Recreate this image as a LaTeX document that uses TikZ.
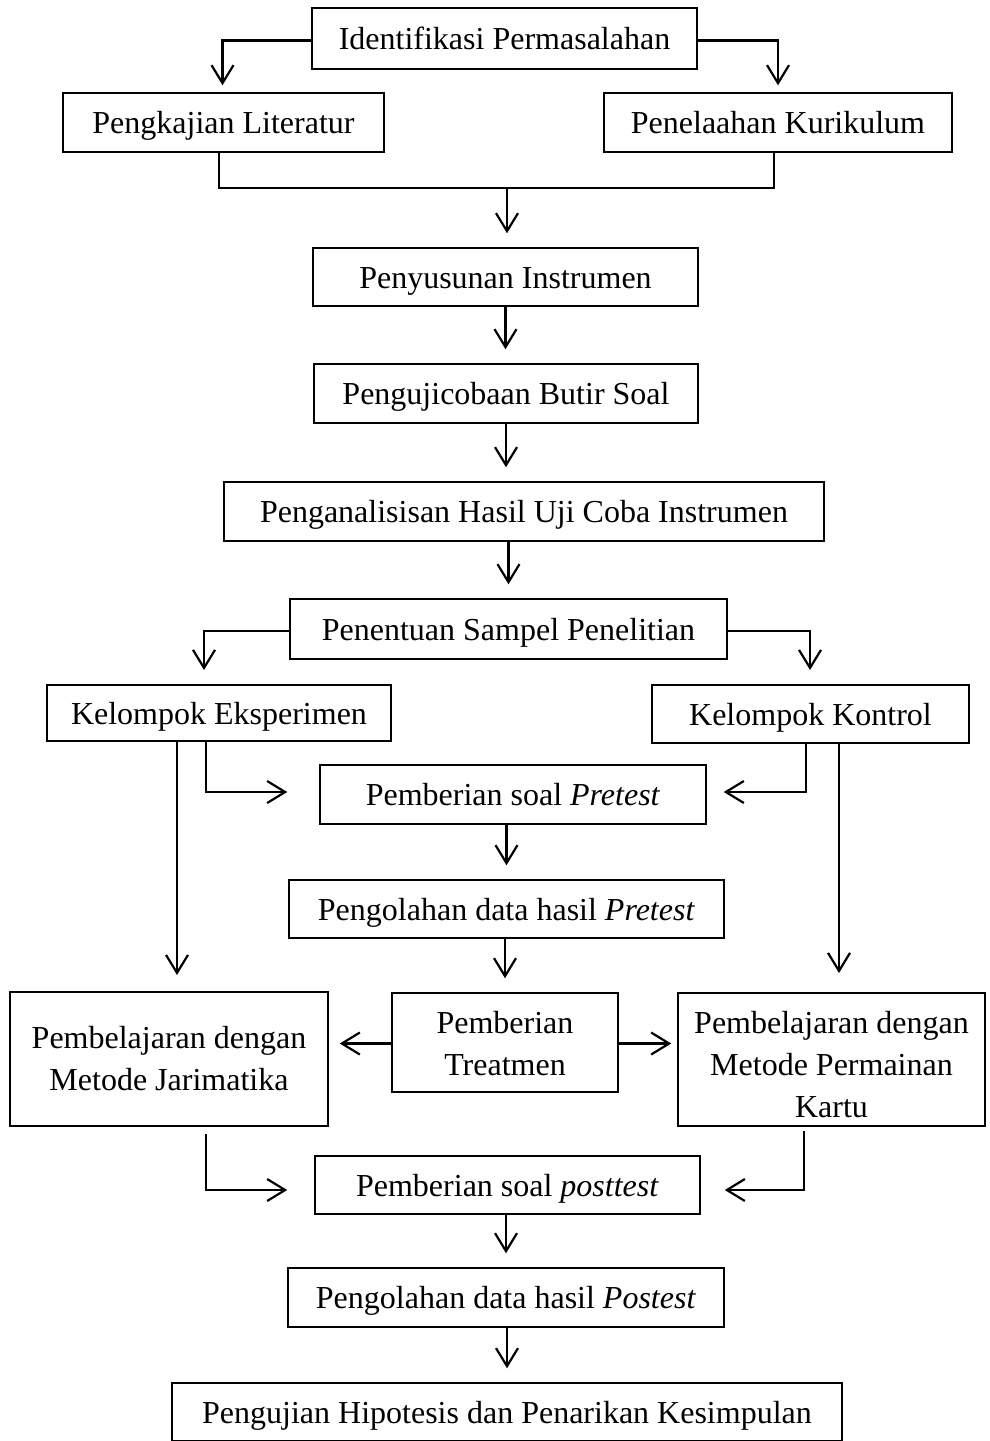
\documentclass[tikz,border=0pt]{standalone}
\usepackage{fontspec}
\setmainfont{Liberation Serif}
\usetikzlibrary{arrows.meta,calc}
\tikzset{
  box/.style={draw, line width=1.5pt, inner sep=0pt, align=center, text height=29pt, text depth=7pt, font=\fontsize{32}{42}\selectfont},
  frame/.style={draw, line width=1.5pt, inner sep=0pt},
  txt/.style={inner sep=0pt, anchor=base, font=\fontsize{32}{42}\selectfont},
  arr/.style={line width=2.2pt, -{Straight Barb[length=18pt,width=22pt]}},
  ln/.style={line width=2.2pt},
}
\begin{document}
\begin{tikzpicture}[x=1pt,y=-1pt]
\useasboundingbox (0,0) rectangle (989,1441);
% boxes
\node[box, minimum width=385pt, minimum height=61pt] (id)  at (504.5,38.5) {Identifikasi Permasalahan};
\node[box, minimum width=321pt, minimum height=59pt] (lit) at (223.5,122.5) {Pengkajian Literatur};
\node[box, minimum width=348pt, minimum height=59pt] (kur) at (778,122.5)   {Penelaahan Kurikulum};
\node[box, minimum width=385pt, minimum height=58pt] (pen) at (505.5,277) {Penyusunan Instrumen};
\node[box, minimum width=384pt, minimum height=59pt] (uji) at (506,393.5) {Pengujicobaan Butir Soal};
\node[box, minimum width=600pt, minimum height=59pt] (ana) at (524,511.5) {Penganalisisan Hasil Uji Coba Instrumen};
\node[box, minimum width=437pt, minimum height=60pt] (sam) at (508.5,629) {Penentuan Sampel Penelitian};
\node[box, minimum width=344pt, minimum height=56pt] (eks) at (219,713)   {Kelompok Eksperimen};
\node[box, minimum width=317pt, minimum height=58pt] (kon) at (810.5,714) {Kelompok Kontrol};
\node[box, minimum width=386pt, minimum height=59pt] (pre) at (513,794.5) {Pemberian soal \textit{Pretest}};
\node[box, minimum width=435pt, minimum height=58pt] (olp) at (506.5,909) {Pengolahan data hasil \textit{Pretest}};
\node[frame, minimum width=318pt, minimum height=134pt] (jar) at (169,1059) {};
\node[frame, minimum width=226pt, minimum height=99pt]  (tre) at (505,1042.5) {};
\node[frame, minimum width=307pt, minimum height=133pt] (kar) at (831.5,1059.5) {};
\node[txt] (jar1) at (169,1048) {Pembelajaran dengan};
\node[txt] (jar2) at (169,1090) {Metode Jarimatika};
\node[txt] (tre1) at (505,1033) {Pemberian};
\node[txt] (tre2) at (505,1075) {Treatmen};
\node[txt] (kar1) at (831.5,1033) {Pembelajaran dengan};
\node[txt] (kar2) at (831.5,1075) {Metode Permainan};
\node[txt] (kar3) at (831.5,1117) {Kartu};
\node[box, minimum width=385pt, minimum height=58pt] (pos) at (507.5,1185) {Pemberian soal \textit{posttest}};
\node[box, minimum width=436pt, minimum height=59pt] (olq) at (506,1297.5) {Pengolahan data hasil \textit{Postest}};
\node[box, minimum width=670pt, minimum height=58pt] (hip) at (507,1412)  {Pengujian Hipotesis dan Penarikan Kesimpulan};
% turning points and free tips
\coordinate (bL) at (219,188);
\coordinate (bR) at (774,188);
\coordinate (bM) at (507,188);
\coordinate (tC) at (204,670);
\coordinate (tD) at (810,670);
\coordinate (eA) at (206,792);
\coordinate (kA) at (806,792);
\coordinate (eB) at (177,975);
\coordinate (kB) at (839,973);
\coordinate (jA) at (206,1190);
\coordinate (kC) at (804,1190);
% connectors
\draw[arr] ([yshift=-2pt]id.west) -| ($(lit.north)+(-1,-7)$);
\draw[arr] ([yshift=-2pt]id.east) -| ($(kur.north)+(0,-7)$);
\draw[ln] (lit.south -| bL) -- (bL) -- (bR) -- (kur.south -| bR);
\draw[arr] (bM) -- ($(pen.north -| bM)+(0,-14)$);
\draw[arr] (pen.south) -- ($(pen.south |- uji.north)+(0,-14)$);
\draw[arr] (uji.south) -- ($(uji.south |- ana.north)+(0,-14)$);
\draw[arr] (sam.north |- ana.south) -- ($(sam.north)+(0,-14)$);
\draw[arr] ([yshift=-2pt]sam.west) -| (tC);
\draw[arr] ([yshift=-2pt]sam.east) -| (tD);
\draw[arr] (eks.south -| eA) |- ($(pre.west |- eA)+(-32,0)$);
\draw[arr] (kon.south -| kA) |- ($(pre.east |- kA)+(17,0)$);
\draw[arr] (eks.south -| eB) -- (eB);
\draw[arr] (kon.south -| kB) -- (kB);
\draw[arr] (pre.south -| olp.north) -- ($(olp.north)+(0,-14)$);
\draw[arr] (olp.south -| tre.north) -- ($(tre.north)+(0,-14)$);
\draw[arr] ([yshift=-1pt]tre.west) -- ($([yshift=-1pt]tre.west -| jar.east)+(11,0)$);
\draw[arr] ([yshift=-1pt]tre.east) -- ($([yshift=-1pt]tre.east -| kar.west)+(-6,0)$);
\draw[arr] ($(jar.south -| jA)+(0,7)$) |- ($(pos.west |- jA)+(-27,0)$);
\draw[arr] ($(kar.south -| kC)+(0,4)$) |- ($(pos.east |- kC)+(24,0)$);
\draw[arr] (pos.south -| olq.north) -- ($(olq.north)+(0,-14)$);
\draw[arr] (olq.south -| hip.north) -- ($(hip.north)+(0,-14)$);
\end{tikzpicture}
\end{document}
